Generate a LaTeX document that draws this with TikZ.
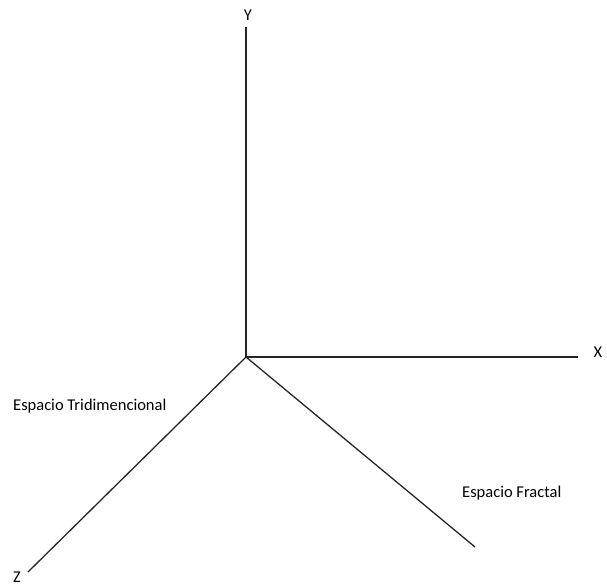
\documentclass[tikz,border=0pt]{standalone}
\usepackage{fontspec}
\setmainfont{Carlito}

\begin{document}
\begin{tikzpicture}[x=1pt, y=-1pt, axis/.style={line width=1.3pt, black!85},
        lbl/.style={font=\fontsize{16.5}{18}\selectfont, inner sep=0pt}]
    \useasboundingbox (0,0) rectangle (607,585);
    \coordinate (O) at (246,357);
    \coordinate (ye) at (246,27);
    \coordinate (xe) at (578,357);
    \coordinate (ze) at (28,572);
    \coordinate (fe) at (475,547);
    \foreach \e in {ye,xe,ze,fe}{
            \draw[axis] (O) -- (\e);
        }
    \node[lbl] (Y) at (248,15) {Y};
    \node[lbl] (X) at (598,352) {X};
    \node[lbl] (Z) at (17,577) {Z};
    \node[lbl, anchor=west] (tri) at (13,406) {Espacio Tridimencional};
    \node[lbl, anchor=west] (fra) at (462,493) {Espacio Fractal};
\end{tikzpicture}
\end{document}
